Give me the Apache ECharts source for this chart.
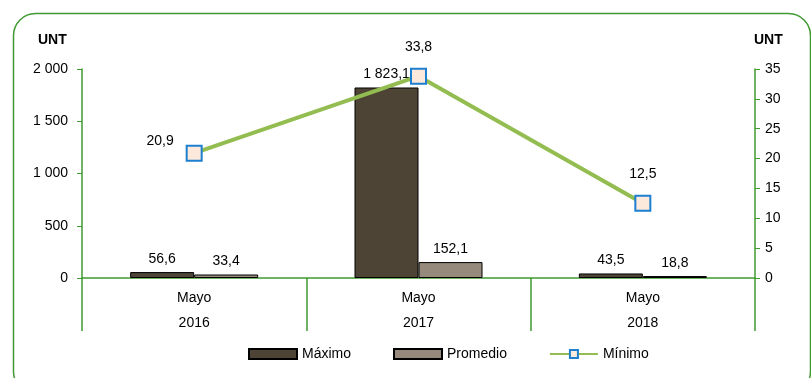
<!DOCTYPE html>
<html><head><meta charset="utf-8">
<script src="https://cdn.jsdelivr.net/npm/echarts@6/dist/echarts.min.js"></script>
<style>html,body{margin:0;padding:0;background:#fff}#c{width:811px;height:378px}</style>
</head><body><div id="c"></div>
<script>
const categories = ['Mayo\n2016', 'Mayo\n2017', 'Mayo\n2018'];
const maximo = [56.6, 1823.1, 43.5];
const promedio = [33.4, 152.1, 18.8];
const minimo = [20.9, 33.8, 12.5];
const leftTicks = [0, 500, 1000, 1500, 2000];
const rightTicks = [0, 5, 10, 15, 20, 25, 30, 35];

function fmt(v, dec) {
  let s = dec ? v.toFixed(dec) : String(Math.round(v));
  let parts = s.split('.');
  parts[0] = parts[0].replace(/\B(?=(\d{3})+(?!\d))/g, ' ');
  return parts.join(',');
}
const FONT = 'Liberation Sans';
const green = '#3f9a2f';
const minLabelPos = ['left', 'top', 'top'];

const chart = echarts.init(document.getElementById('c'));
chart.setOption({
  animation: false,
  textStyle: { fontFamily: FONT },
  graphic: [{
    type: 'rect', left: 11, top: 11,
    shape: { width: 797, height: 380, r: 22 },
    style: { fill: 'none', stroke: green, lineWidth: 1.5 }, z: -1
  }, {
    type: 'text', left: 38, top: 33,
    style: { text: 'UNT', font: 'bold 14px ' + FONT, fill: '#000' }
  }, {
    type: 'text', left: 754, top: 33,
    style: { text: 'UNT', font: 'bold 14px ' + FONT, fill: '#000' }
  }],
  legend: {
    bottom: 12, left: 243, itemGap: 42, itemWidth: 48, itemHeight: 10,
    textStyle: { fontSize: 14, color: '#000', fontFamily: FONT },
    data: [{ name: 'Máximo', icon: 'rect' }, { name: 'Promedio', icon: 'rect' }, { name: 'Mínimo' }]
  },
  grid: { left: 82, right: 56, top: 69, bottom: 100 },
  xAxis: {
    type: 'category', data: categories,
    axisLine: { lineStyle: { color: green, width: 1.5 } },
    axisTick: { show: true, length: 53, lineStyle: { color: green, width: 1.5 } },
    axisLabel: { color: '#000', fontSize: 14, lineHeight: 25, margin: 8 }
  },
  yAxis: [{
    type: 'value', min: 0, max: 2000, interval: 500,
    axisLine: { show: true, lineStyle: { color: green, width: 1.5 } },
    axisTick: { show: true, length: 5, lineStyle: { color: green } },
    splitLine: { show: false },
    axisLabel: { color: '#000', fontSize: 14, margin: 14, formatter: v => fmt(v) }
  }, {
    type: 'value', min: 0, max: 35, interval: 5,
    axisLine: { show: true, lineStyle: { color: green, width: 1.5 } },
    axisTick: { show: true, length: 5, lineStyle: { color: green } },
    splitLine: { show: false },
    axisLabel: { color: '#000', fontSize: 14, margin: 10 }
  }],
  series: [{
    name: 'Máximo', type: 'bar', data: maximo, barWidth: 64, barGap: '0%',
    itemStyle: { color: '#4d4436', borderColor: '#000', borderWidth: 1 },
    label: { show: true, position: 'top', color: '#000', fontSize: 14, distance: 6, formatter: p => fmt(p.value, 1) }
  }, {
    name: 'Promedio', type: 'bar', data: promedio, barWidth: 64,
    itemStyle: { color: '#958a7b', borderColor: '#000', borderWidth: 1 },
    label: { show: true, position: 'top', color: '#000', fontSize: 14, distance: 6, formatter: p => fmt(p.value, 1) }
  }, {
    name: 'Mínimo', type: 'line', yAxisIndex: 1,
    data: minimo.map((v, i) => ({ value: v, label: { position: minLabelPos[i], distance: i === 0 ? 12 : 14, offset: i === 0 ? [0, -12] : [0, 0] } })),
    symbol: 'rect', symbolSize: 15,
    lineStyle: { color: '#93bd50', width: 4 },
    itemStyle: { color: '#fde8dc', borderColor: '#1c7fcf', borderWidth: 2 },
    label: { show: true, color: '#000', fontSize: 14, formatter: p => fmt(p.value, 1) },
    z: 5
  }]
});
</script></body></html>
